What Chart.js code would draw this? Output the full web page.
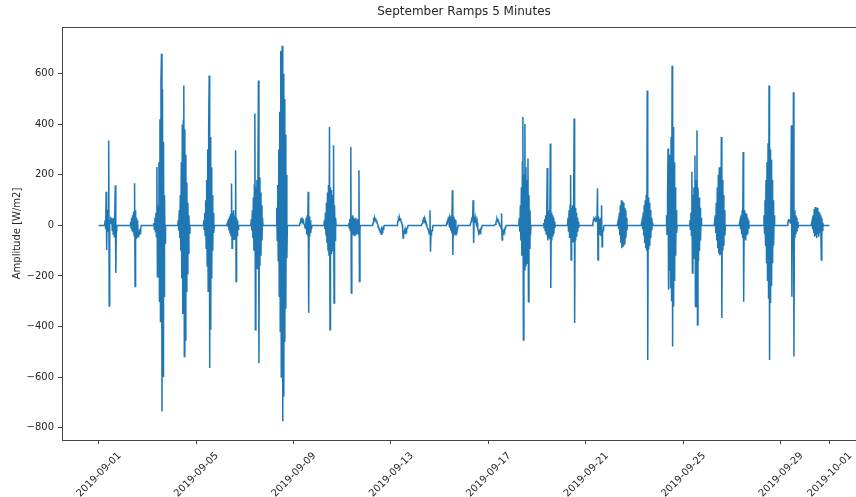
<!DOCTYPE html>
<html>
<head>
<meta charset="utf-8">
<title>September Ramps 5 Minutes</title>
<script src="https://cdn.jsdelivr.net/npm/chart.js@4.4.0/dist/chart.umd.min.js"></script>
<style>
  html, body { margin: 0; padding: 0; background: #fff; overflow: hidden; }
  #wrap { position: relative; width: 880px; height: 497px; }
</style>
</head>
<body>
<div id="wrap"><canvas id="ramps" width="880" height="497"></canvas></div>
<script>
// Ramp amplitude [W/m2], one sample every 30 min from 06:00 to 18:00 each day
const sep01 = [0, 20, -15, 133, -97, 35, -25, 60, 336, -319, 15, 10, 25, 20, 30, -20, 25, -35, 30, -45, 40, 159, -188, -20, 0];
const sep02 = [0, 0, 0, 15, -10, 30, -20, 40, -25, 55, -40, 167, -242, 60, -50, 30, -40, 20, -45, -30, -35, -25, -30, -15, 0];
const sep03 = [0, 10, -15, 30, -25, 50, -45, 231, -203, 80, -110, 250, -300, 420, -380, 573, 679, -736, 540, -597, 330, -280, 120, -70, 0];
const sep04 = [0, 20, -20, 60, -50, 120, -100, 250, -210, 399, -350, 415, 554, -519, 380, -453, 280, -260, 170, -190, 90, -110, 40, -30, 0];
const sep05 = [0, 0, 0, 20, -15, 50, -40, 100, -90, 180, -160, 300, -260, 389, 593, -564, 350, -413, 230, -210, 120, -100, 50, -30, 0];
const sep06 = [0, 0, 10, -5, 25, -20, 35, -30, 45, -40, 166, -90, 50, -45, 60, -55, 40, -50, 297, -222, 30, -40, 20, -15, 0];
const sep07 = [0, 25, -20, 60, -50, 110, -100, 160, 443, -413, 150, -140, 180, -170, 200, 573, -545, 190, -160, 130, -120, 80, -60, 30, 0];
const sep08 = [0, 0, 0, 70, -60, 160, -140, 300, -280, 450, -420, 690, -600, 640, 711, -775, 600, -677, 500, -460, 360, -330, 200, -130, 0];
const sep09 = [0, 10, 20, 25, 20, 25, 15, 20, 10, 5, 0, -10, -5, 30, -35, 40, -40, 133, -346, 35, -45, 20, -30, -10, 0];
const sep10 = [0, 20, -15, 50, -40, 90, -70, 130, -100, 160, -120, 389, -413, 150, -110, 140, -100, 120, -90, 317, -307, 80, -60, 30, 0];
const sep11 = [0, 10, -10, 25, -20, 310, -267, 35, -30, 40, -35, 30, -40, 25, -35, 30, -25, 20, -30, 25, -35, 218, -222, -15, 0];
const sep12 = [0, 12, 22, 18, 30, 24, 28, 15, 20, 8, 5, -8, -5, -18, -12, -28, -22, -35, -20, -28, -12, -15, -5, 0, 0];
const sep13 = [0, 10, 18, 25, 20, 30, 22, 28, 15, 10, 5, -10, -50, -20, -30, -25, -32, -20, -28, -15, -10, -5, 0, 0, 0];
const sep14 = [0, 0, 10, 18, 25, 20, 30, 22, 18, 12, 5, -5, -10, -15, -20, -25, -20, 60, -104, -25, -30, -20, -10, 0, 0];
const sep15 = [0, 0, 0, 15, 10, 25, 20, 30, -10, 35, -20, 40, -30, 139, -117, 35, -40, 25, -35, 20, -40, -30, -25, -10, 0];
const sep16 = [0, 0, 15, 25, 30, 20, 100, -70, 35, 15, 30, 10, 20, -5, 10, -15, -20, -30, -25, -35, -20, -25, -10, -5, 0];
const sep17 = [0, 0, 5, 12, 20, 25, 18, 22, 15, 10, 5, 0, -5, -10, 48, -58, -20, -25, -30, -20, -25, -10, -5, 0, 0];
const sep18 = [0, 30, -25, 80, -60, 150, -120, 250, 429, -453, 200, -176, 401, -160, 230, -150, 180, -130, 265, -302, 120, -90, 60, -40, 0];
const sep19 = [0, 10, -10, 25, -20, 40, -35, 50, 227, -60, 55, -50, 60, -55, 324, -248, 50, -60, 40, -45, 30, -35, 15, -10, 0];
const sep20 = [0, 30, -25, 60, -50, 80, 199, -137, 70, -60, 80, -65, 75, 423, -386, 70, -60, 50, -45, 30, -25, 15, -10, 0, 0];
const sep21 = [0, 0, 10, 20, 25, 20, 30, 15, 25, 20, 30, 147, -137, 35, -30, 25, -35, 30, -40, 80, -84, -30, -20, -10, 0];
const sep22 = [0, 0, 0, 0, 20, -15, 50, -40, 80, -70, 100, -90, 95, -85, 90, -80, 70, -75, 60, -50, 30, -20, 0, 0, 0];
const sep23 = [0, 0, 0, 20, -15, 50, -40, 80, -70, 100, -90, 120, -100, 534, -532, 110, -95, 90, -80, 60, -50, 30, -20, 10, 0];
const sep24 = [0, 0, 0, 40, -35, 120, 304, -255, 200, -180, 280, -250, 350, -300, 632, -479, 389, -321, 250, -220, 150, -120, 60, -30, 0];
const sep25 = [0, 20, -15, 50, -40, 212, -188, 120, -100, 150, -130, 277, -321, 180, -160, 376, -394, 150, -140, 110, -100, 70, -60, 30, 0];
const sep26 = [0, 0, 0, 40, -30, 90, -60, 150, -90, 200, -110, 230, -118, 220, -115, 350, -366, 180, -100, 120, -80, 60, -40, 0, 0];
const sep27 = [0, 0, 0, 0, 20, -15, 40, -35, 60, -50, 290, -302, 60, -55, 50, -60, 45, -40, 30, -35, 20, -15, 0, 0, 0];
const sep28 = [0, 0, 0, 40, -30, 100, -80, 180, -150, 250, -220, 325, -290, 554, -532, 300, -307, 260, -240, 180, -150, 100, -80, 40, 0];
const sep29 = [0, 0, 10, 20, 25, 15, 20, 10, 30, 396, -282, 50, -60, 527, -519, 60, -50, 40, -35, 30, -25, 15, -10, 0, 0];
const sep30 = [0, 0, 20, -15, 40, -30, 65, -45, 73, -40, 60, -50, 70, -35, 55, -45, 50, -30, 40, -25, -137, 30, -20, 10, 0];

const days = [
  sep01, sep02, sep03, sep04, sep05, sep06, sep07, sep08, sep09, sep10,
  sep11, sep12, sep13, sep14, sep15, sep16, sep17, sep18, sep19, sep20,
  sep21, sep22, sep23, sep24, sep25, sep26, sep27, sep28, sep29, sep30,
];

const FIRST_SLOT_HOUR = 6;
const SLOT_HOURS = 0.5;

// x axis in days since 2019-09-01 00:00
const xTickDays = [0, 4, 8, 12, 16, 20, 24, 28, 30];
const xTickLabels = ['2019-09-01', '2019-09-05', '2019-09-09', '2019-09-13', '2019-09-17',
  '2019-09-21', '2019-09-25', '2019-09-29', '2019-10-01'];
const yTickValues = [-800, -600, -400, -200, 0, 200, 400, 600];

const FONT = { family: "'DejaVu Sans', sans-serif", size: 10 };
const TEXT = '#262626';
const AXIS = '#444';

function buildPoints() {
  const pts = [{ x: 0, y: 0 }];
  days.forEach((vals, d) => {
    vals.forEach((v, i) => {
      pts.push({ x: d + (FIRST_SLOT_HOUR + i * SLOT_HOURS) / 24, y: v });
    });
  });
  pts.push({ x: days.length, y: 0 });
  return pts;
}

function fmtY(v) {
  return v < 0 ? '\u2212' + Math.abs(v) : String(v);
}

// top/right spines and the title
const frame = {
  id: 'frame',
  afterDatasetsDraw(chart) {
    const { ctx, chartArea: a } = chart;
    ctx.save();
    ctx.strokeStyle = AXIS;
    ctx.lineWidth = 1;
    ctx.strokeRect(Math.round(a.left) + 0.5, Math.round(a.top) + 0.5,
      Math.round(a.right - a.left), Math.round(a.bottom - a.top));
    ctx.fillStyle = TEXT;
    ctx.font = "12px 'DejaVu Sans', sans-serif";
    ctx.textAlign = 'center';
    ctx.textBaseline = 'alphabetic';
    ctx.fillText('September Ramps 5 Minutes', (a.left + a.right) / 2, a.top - 12);
    ctx.restore();
  },
};

new Chart(document.getElementById('ramps'), {
  type: 'line',
  data: {
    datasets: [{
      data: buildPoints(),
      borderColor: '#1f77b4',
      borderWidth: 1.5,
      pointRadius: 0,
      tension: 0,
      fill: false,
    }],
  },
  options: {
    responsive: false,
    animation: false,
    devicePixelRatio: 1,
    parsing: false,
    layout: { padding: { left: 0, right: 14, top: 27, bottom: 0 } },
    plugins: {
      legend: { display: false },
      tooltip: { enabled: false },
      title: { display: false },
    },
    scales: {
      x: {
        type: 'linear',
        min: -1.5,
        max: 31.5,
        afterBuildTicks: (s) => { s.ticks = xTickDays.map((v) => ({ value: v })); },
        afterFit: (s) => { s.height = 57; s.paddingLeft = 0; s.paddingRight = 0; },
        ticks: {
          callback: (v) => xTickLabels[xTickDays.indexOf(v)],
          autoSkip: false,
          minRotation: 45,
          maxRotation: 45,
          labelOffset: 21,
          padding: 6,
          font: FONT,
          color: TEXT,
        },
        grid: { drawOnChartArea: false, drawTicks: true, tickLength: 4, tickColor: AXIS },
        border: { display: true, color: AXIS },
      },
      y: {
        min: -849,
        max: 785,
        afterBuildTicks: (s) => { s.ticks = yTickValues.map((v) => ({ value: v })); },
        afterFit: (s) => { s.width = 62; s.paddingTop = 0; s.paddingBottom = 0; },
        ticks: { callback: fmtY, padding: 4, font: FONT, color: TEXT },
        grid: { drawOnChartArea: false, drawTicks: true, tickLength: 4, tickColor: AXIS },
        border: { display: true, color: AXIS },
        title: {
          display: true,
          text: 'Amplitude [W/m2]',
          font: FONT,
          color: TEXT,
          padding: { top: 11, bottom: 0 },
        },
      },
    },
  },
  plugins: [frame],
});
</script>
</body>
</html>
